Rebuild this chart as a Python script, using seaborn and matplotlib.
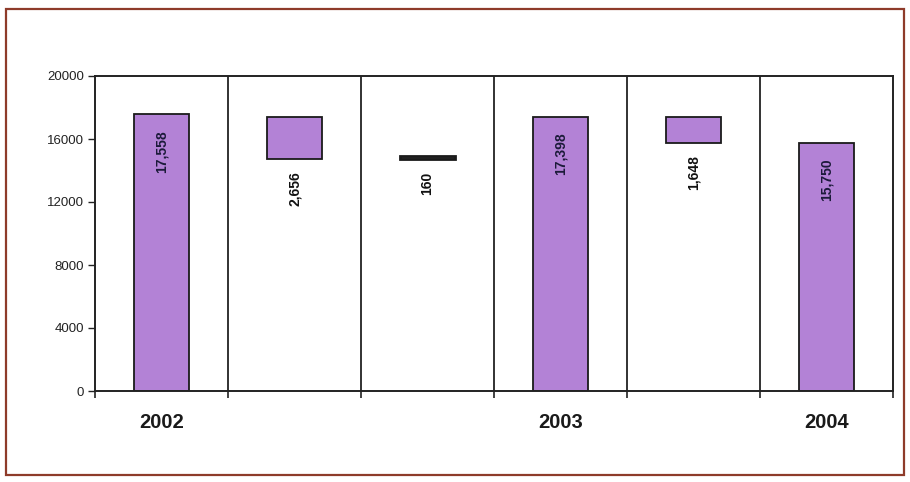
import matplotlib
matplotlib.use("Agg")
import matplotlib.pyplot as plt
from matplotlib.patches import Rectangle
import seaborn as sns
import pandas as pd

# ---- data ----
categories = ["2002", "Change 1", "Change 2", "2003", "Change 3", "2004"]
bar_labels = ["17,558", "2,656", "160", "17,398", "1,648", "15,750"]
bar_values = [17558, 2656, 160, 17398, 1648, 15750]
bar_bottoms = [0, 14742, 14742, 0, 15750, 0]
label_inside = [True, False, False, True, False, True]
xtick_labels = ["2002", "", "", "2003", "", "2004"]
yticks = [0, 4000, 8000, 12000, 16000, 20000]

sns.set_theme(style="white")
plt.rcParams["font.family"] = ["Liberation Sans", "DejaVu Sans"]

df = pd.DataFrame({"cat": categories, "val": bar_values})

fig = plt.figure(figsize=(9.1, 4.82), dpi=100)
ax = fig.add_axes([95 / 910, 91 / 482, 798 / 910, 315 / 482])

sns.barplot(data=df, x="cat", y="val", order=categories, color="#b382d6",
            saturation=1, width=0.41, bottom=bar_bottoms,
            edgecolor="#1a1a1a", linewidth=1.3, ax=ax)
# the small change bar is drawn dark grey
ax.patches[2].set_facecolor("#5a5a5a")
ax.patches[2].set_linewidth(2.0)

for i, p in enumerate(ax.patches):
    xc = p.get_x() + p.get_width() / 2
    top = p.get_y() + p.get_height()
    bot = p.get_y()
    if label_inside[i]:
        ax.text(xc, top - 1000, bar_labels[i], rotation=90, ha="center",
                va="top", fontsize=10, fontweight="bold", color="#1c1a3a")
    else:
        ax.text(xc, bot - 800, bar_labels[i], rotation=90, ha="center",
                va="top", fontsize=10, fontweight="bold", color="#111111")

ax.set_xlim(-0.5, len(categories) - 0.5)
ax.set_ylim(0, 20000)
ax.set_yticks(yticks)
ax.set_yticklabels([str(v) for v in yticks], fontsize=9.5, color="#222222")
ax.set_xticks(range(len(categories)))
ax.set_xticklabels(xtick_labels, fontsize=14.5, fontweight="bold", color="#1a1a1a")
ax.tick_params(axis="x", length=0, pad=16)
ax.set_xticks([i - 0.5 for i in range(len(categories) + 1)], minor=True)
ax.tick_params(axis="x", which="minor", length=5, width=1.2, color="#222222",
               direction="out", bottom=True)
ax.tick_params(axis="y", length=5, width=1.0, color="#222222", left=True, pad=3)
ax.grid(False)
for b in [i - 0.5 for i in range(1, len(categories))]:
    ax.axvline(b, color="#222222", lw=1.3, zorder=0.5)
for s in ax.spines.values():
    s.set_visible(True)
    s.set_color("#222222")
    s.set_linewidth(1.4)
ax.set_xlabel("")
ax.set_ylabel("")

fig.patches.append(Rectangle((6 / 910, 7 / 482), 898 / 910, 466 / 482,
                             transform=fig.transFigure, fill=False,
                             edgecolor="#8e3b2a", linewidth=1.6))

fig.savefig("out.png", dpi=100)
